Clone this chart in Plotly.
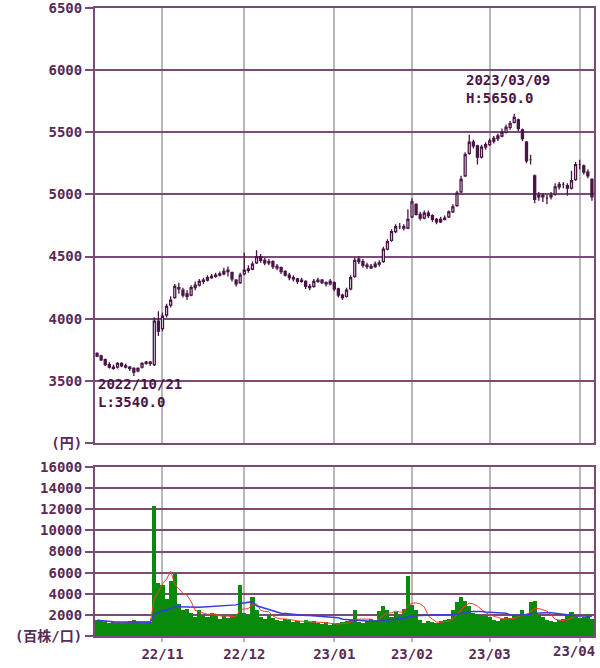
import pandas as pd
import plotly.graph_objects as go

# ---- trading days (TSE calendar) ----
holidays = ["2022-10-10", "2022-11-03", "2022-11-23", "2023-01-02", "2023-01-03",
            "2023-01-09", "2023-02-23", "2023-03-21"]
dates = [d.strftime("%Y-%m-%d") for d in
         pd.bdate_range("2022-10-07", "2023-04-06", freq="C", holidays=holidays)]

# ---- prices (yen) ----
opens = [3700, 3700, 3670, 3630, 3610, 3610, 3640, 3620, 3610, 3600, 3580, 3610, 3640, 3650, 3630, 3980,
         3920, 4030, 4110, 4170, 4250, 4230, 4200, 4190, 4250, 4270, 4300, 4310, 4330, 4340, 4350, 4360, 4390, 4370, 4310, 4290,
         4360, 4390, 4400, 4450, 4500, 4470, 4450, 4460, 4420, 4410, 4380, 4350, 4330, 4320, 4300, 4300, 4260, 4260, 4300, 4310, 4290, 4280,
         4290, 4240, 4190, 4180, 4240, 4340, 4480, 4460, 4430, 4410, 4420, 4440, 4460, 4560, 4630, 4700, 4740, 4740, 4730,
         4820, 4920, 4840, 4810, 4850, 4830, 4800, 4780, 4800, 4820, 4860, 4910, 5020, 5150, 5330, 5420, 5390, 5300, 5380,
         5400, 5430, 5450, 5470, 5500, 5540, 5580, 5600, 5520, 5420, 5280, 5150, 4980, 4990, 4970, 4980, 5000, 5060, 5080, 5070, 5050, 5120,
         5240, 5230, 5180, 5120]
highs = [3730, 3710, 3680, 3650, 3630, 3650, 3650, 3640, 3620, 3610, 3610, 3650, 3660, 3660, 4010, 4060,
         4050, 4120, 4180, 4280, 4290, 4250, 4230, 4270, 4300, 4320, 4330, 4350, 4360, 4370, 4380, 4410, 4420, 4380, 4320, 4370,
         4530, 4430, 4460, 4550, 4520, 4490, 4480, 4470, 4440, 4420, 4390, 4370, 4350, 4330, 4330, 4310, 4280, 4320, 4330, 4320, 4300, 4320,
         4300, 4250, 4200, 4250, 4350, 4490, 4500, 4480, 4450, 4440, 4460, 4470, 4580, 4640, 4720, 4760, 4770, 4760, 4880,
         4970, 4930, 4860, 4870, 4870, 4840, 4810, 4820, 4830, 4870, 4920, 5030, 5150, 5340, 5480, 5440, 5400, 5400, 5420,
         5450, 5470, 5490, 5530, 5560, 5590, 5650, 5610, 5530, 5430, 5320, 5160, 5020, 5010, 5000, 5020, 5090, 5100, 5100, 5090, 5190, 5260,
         5280, 5240, 5200, 5130]
lows = [3690, 3660, 3620, 3600, 3590, 3600, 3610, 3600, 3580, 3540, 3570, 3600, 3630, 3620, 3620, 3860,
        3900, 4010, 4090, 4160, 4200, 4170, 4150, 4180, 4230, 4260, 4280, 4300, 4320, 4330, 4340, 4350, 4340, 4300, 4260, 4280,
        4350, 4370, 4390, 4440, 4450, 4430, 4430, 4400, 4390, 4360, 4340, 4310, 4300, 4280, 4290, 4240, 4230, 4250, 4290, 4280, 4260, 4270,
        4220, 4170, 4150, 4170, 4230, 4330, 4440, 4410, 4400, 4400, 4410, 4420, 4450, 4550, 4620, 4690, 4720, 4710, 4720,
        4810, 4830, 4790, 4800, 4810, 4780, 4760, 4770, 4790, 4810, 4850, 4900, 5010, 5140, 5320, 5370, 5240, 5290, 5360,
        5390, 5410, 5430, 5460, 5490, 5520, 5570, 5510, 5430, 5250, 5240, 4930, 4950, 4940, 4920, 4960, 4990, 5040, 5050, 4990, 5040, 5110,
        5200, 5160, 5130, 4950]
closes = [3720, 3670, 3630, 3610, 3600, 3640, 3620, 3610, 3600, 3570, 3600, 3640, 3650, 3640, 3980, 3900,
          4020, 4100, 4150, 4260, 4240, 4190, 4180, 4250, 4270, 4300, 4310, 4330, 4340, 4350, 4360, 4380, 4380, 4320, 4280, 4350,
          4390, 4400, 4440, 4500, 4470, 4450, 4460, 4420, 4410, 4380, 4350, 4330, 4320, 4300, 4310, 4260, 4250, 4300, 4310, 4290, 4280, 4300,
          4240, 4190, 4170, 4230, 4330, 4470, 4460, 4430, 4420, 4420, 4440, 4450, 4560, 4620, 4700, 4740, 4740, 4730, 4800,
          4940, 4840, 4810, 4850, 4830, 4800, 4780, 4800, 4810, 4860, 4900, 5010, 5120, 5320, 5420, 5390, 5300, 5380, 5400,
          5430, 5450, 5470, 5500, 5540, 5570, 5620, 5530, 5450, 5270, 5280, 4960, 4990, 4980, 4970, 4990, 5060, 5080, 5080, 5050, 5110, 5240,
          5240, 5180, 5150, 4980]

# ---- volume (hundreds of shares) ----
volume = [1500, 1400, 1300, 1200, 1300, 1250, 1200, 1300, 1400, 1500, 1300, 1200, 1250, 1300, 12300, 5000,
          4800, 3500, 5200, 6000, 3000, 2500, 2600, 2200, 1800, 2500, 2000, 1800, 2200, 1900, 1600, 2000, 1700, 1900, 2100, 4800,
          2200, 2000, 3700, 2500, 1800, 1600, 1900, 1700, 1500, 1400, 1600, 1500, 1300, 1400, 1200, 1500, 1300, 1400, 1200, 1100, 1300, 1000,
          1100, 1200, 1300, 1400, 1500, 2500, 1300, 1200, 1400, 1600, 1500, 2400, 2800, 2500, 1800, 2300, 2000, 2600, 5700,
          2900, 2500, 1500, 1200, 1400, 1300, 1200, 1400, 1500, 1600, 2500, 3200, 3700, 3300, 2800, 2200, 2100, 2000, 1900,
          1800, 1500, 1400, 1600, 1800, 1700, 1900, 2000, 2500, 2000, 3200, 3300, 2000, 1800, 1500, 1400, 1300, 1500, 1600, 2000, 2300, 1900,
          1700, 1800, 2100, 1600]

month_ticks = ["2022-11-01", "2022-12-01", "2023-01-04", "2023-02-01", "2023-03-01", "2023-04-03"]
month_labels = ["22/11", "22/12", "23/01", "23/02", "23/03", "23/04"]
price_ticks = [3000, 3500, 4000, 4500, 5000, 5500, 6000, 6500]
price_labels = ["(円)", "3500", "4000", "4500", "5000", "5500", "6000", "6500"]
vol_ticks = [0, 2000, 4000, 6000, 8000, 10000, 12000, 14000, 16000]
vol_labels = ["(百株/口)", "2000", "4000", "6000", "8000", "10000", "12000", "14000", "16000"]

high_date, high_val = "2023-03-09", 5650.0
low_date, low_val = "2022-10-21", 3540.0

vol_s = pd.Series(volume)
ma_short = vol_s.rolling(5, min_periods=1).mean()
ma_long = vol_s.rolling(25, min_periods=1).mean()

PURPLE = "#4a1446"
GRIDP = "#7a4a78"
GRAY = "#b8b8b8"
FONT = "DejaVu Sans Mono, Noto Sans CJK JP, monospace"
TXT = "#5a2a58"

fig = go.Figure()
fig.add_trace(go.Candlestick(
    x=dates, open=opens, high=highs, low=lows, close=closes,
    increasing=dict(line=dict(color=PURPLE, width=1.3), fillcolor="white"),
    decreasing=dict(line=dict(color=PURPLE, width=1.3), fillcolor=PURPLE),
    whiskerwidth=0, xaxis="x", yaxis="y", showlegend=False))
fig.add_trace(go.Bar(x=dates, y=volume, marker=dict(color="#0a8a0a", line=dict(width=0)),
                     xaxis="x2", yaxis="y2", showlegend=False))
fig.add_trace(go.Scatter(x=dates, y=ma_short, mode="lines", line=dict(color="#ff3a2a", width=1),
                         xaxis="x2", yaxis="y2", showlegend=False))
fig.add_trace(go.Scatter(x=dates, y=ma_long, mode="lines", line=dict(color="#3a3ae0", width=1.5),
                         xaxis="x2", yaxis="y2", showlegend=False))

tickfont = dict(family=FONT, size=14, color=TXT, weight="bold")
xcommon = dict(type="category", categoryorder="array", categoryarray=dates,
               range=[-0.5, len(dates) - 0.5], tickvals=month_ticks,
               showgrid=True, gridcolor=GRAY, gridwidth=2, automargin=False,
               showline=True, linecolor=GRIDP, linewidth=2, mirror=True, zeroline=False)
ycommon = dict(showgrid=True, gridcolor=GRIDP, gridwidth=2, showline=True, linecolor=GRIDP,
               linewidth=2, mirror=True, ticks="outside", ticklen=8, tickwidth=2, tickcolor=GRIDP,
               tickfont=tickfont, zeroline=False, automargin=False, ticklabeloverflow="allow")

top_lo = (636 - 443) / 628
bot_hi = (636 - 467) / 628
fig.update_layout(
    width=600, height=668, margin=dict(l=95, r=6, t=8, b=32, autoexpand=False),
    paper_bgcolor="white", plot_bgcolor="white",
    xaxis=dict(**xcommon, domain=[0, 1], anchor="y", showticklabels=False,
               ticktext=month_labels, rangeslider=dict(visible=False)),
    xaxis2=dict(**xcommon, domain=[0, 1], anchor="y2", ticks="outside", ticklen=4, tickcolor=GRAY,
                tickwidth=2, tickfont=tickfont, ticktext=month_labels[:-1] + [""]),
    yaxis=dict(**ycommon, domain=[top_lo, 1], range=[3000, 6500], tickvals=price_ticks, ticktext=price_labels),
    yaxis2=dict(**ycommon, domain=[0, bot_hi], range=[0, 16000], tickvals=vol_ticks, ticktext=vol_labels),
    bargap=0,
)

# last month label is pulled inside the right edge, as in the reference
fig.add_annotation(x=month_ticks[-1], y=0, xref="x2", yref="paper", text=month_labels[-1],
                   showarrow=False, xanchor="right", yanchor="top", xshift=17, yshift=-5,
                   font=tickfont)

annfont = dict(family=FONT, size=14, color=PURPLE, weight="bold")
fig.add_annotation(x=high_date, y=high_val, xref="x", yref="y",
                   text=f"{high_date.replace('-', '/')}<br>H:{high_val:.1f}",
                   showarrow=False, xanchor="left", yanchor="bottom", align="left",
                   xshift=-50, yshift=6, font=annfont)
fig.add_annotation(x=low_date, y=low_val, xref="x", yref="y",
                   text=f"{low_date.replace('-', '/')}<br>L:{low_val:.1f}",
                   showarrow=False, xanchor="left", yanchor="top", align="left",
                   xshift=-38, yshift=2, font=annfont)

fig.write_html("out.html", config={"displayModeBar": False},
               post_script="document.body.style.margin='0';document.body.style.overflow='hidden';")
